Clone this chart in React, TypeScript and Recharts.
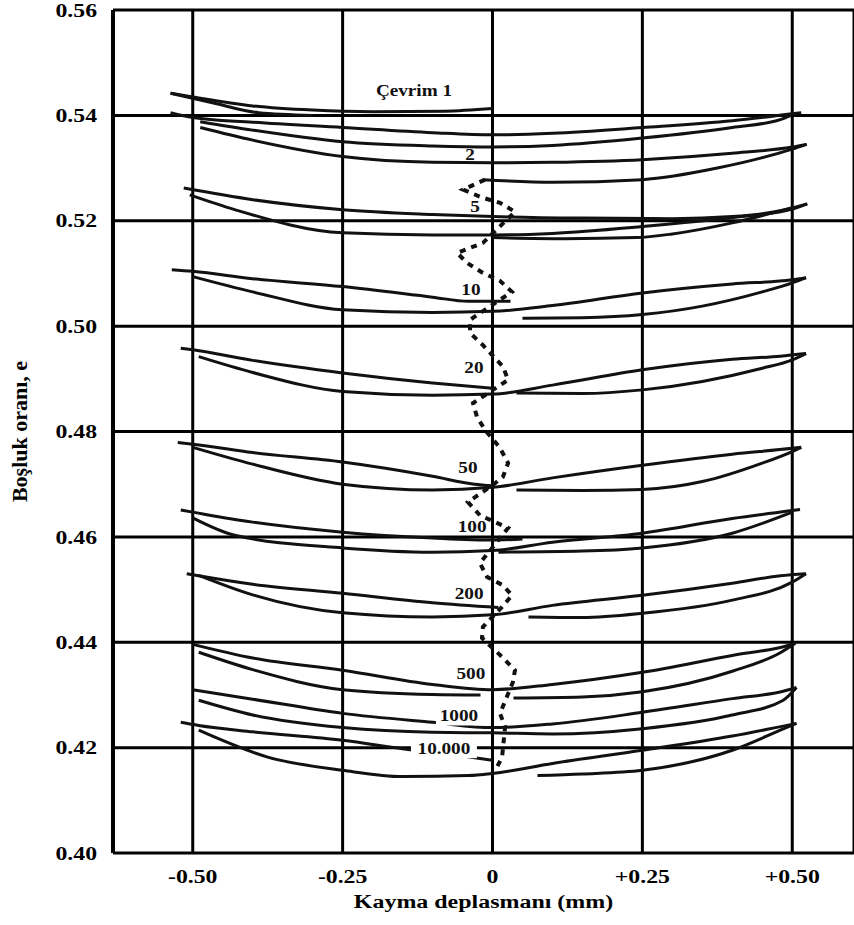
import { LineChart, Line, XAxis, YAxis, CartesianGrid, ReferenceDot } from 'recharts'

type Pt = { x: number; e: number }
const pts = (arr: number[][]): Pt[] => arr.map(([x, e]) => ({ x, e }))

// axis ticks
const xTicks = [-0.5, -0.25, 0, 0.25, 0.5]
const xTickLabels = ['-0.50', '-0.25', '0', '+0.25', '+0.50']
const yTicks = [0.4, 0.42, 0.44, 0.46, 0.48, 0.5, 0.52, 0.54, 0.56]
const yTickLabels = ['0.40', '0.42', '0.44', '0.46', '0.48', '0.50', '0.52', '0.54', '0.56']

// cycle 1 (shear displacement mm, void ratio e)
const cyc1a = pts([[-0.537, 0.5442], [-0.5, 0.5435], [-0.4, 0.5418], [-0.3, 0.541], [-0.2, 0.5407], [-0.08, 0.5408], [0, 0.5413]])
const cyc1b = pts([[-0.537, 0.5442], [-0.46, 0.5422], [-0.39, 0.5405], [-0.3, 0.54]])
const cyc1c = pts([[-0.537, 0.5405], [-0.5, 0.5396], [-0.4, 0.5387], [-0.25, 0.5377], [-0.1, 0.5367], [0, 0.5363], [0.1, 0.5366], [0.25, 0.5377], [0.4, 0.539], [0.5, 0.5403], [0.515, 0.5405]])
const cyc1d = pts([[-0.4875, 0.5388], [-0.4, 0.5372], [-0.25, 0.535], [-0.1, 0.5342], [0, 0.534], [0.1, 0.5343], [0.25, 0.5357], [0.4, 0.5377], [0.48, 0.5392], [0.5, 0.5401]])
// cycle 2
const cyc2a = pts([[-0.4875, 0.5377], [-0.4, 0.5353], [-0.25, 0.5322], [-0.1, 0.5311], [0, 0.531], [0.1, 0.5311], [0.25, 0.5316], [0.4, 0.5328], [0.5, 0.534], [0.524, 0.5345]])
const cyc2b = pts([[-0.016, 0.5278], [0.1, 0.5273], [0.25, 0.5278], [0.375, 0.53], [0.5, 0.5336], [0.524, 0.5345]])
// cycle 5
const cyc5a = pts([[-0.515, 0.5262], [-0.4, 0.524], [-0.25, 0.5221], [-0.1, 0.5212], [0, 0.5208], [0.15, 0.5205], [0.3, 0.5204], [0.4, 0.5208], [0.48, 0.5219], [0.525, 0.5232]])
const cyc5b = pts([[-0.505, 0.5249], [-0.43, 0.5221], [-0.25, 0.5177], [-0.1, 0.5173], [0, 0.5173], [0.1, 0.5176], [0.25, 0.5189], [0.4, 0.5206], [0.5, 0.5222], [0.525, 0.5232]])
const cyc5c = pts([[0, 0.5168], [0.12, 0.5166], [0.24, 0.5168], [0.3, 0.5175], [0.4, 0.5196], [0.5, 0.5225]])
// cycle 10
const cyc10a = pts([[-0.535, 0.5107], [-0.5, 0.5104], [-0.4, 0.509], [-0.25, 0.5075], [-0.1, 0.5055], [-0.04, 0.5047], [0.03, 0.5047]])
const cyc10b = pts([[-0.5, 0.5094], [-0.4, 0.5065], [-0.25, 0.5031], [-0.1, 0.5026], [0, 0.5028], [0.1, 0.5039], [0.25, 0.5063], [0.4, 0.508], [0.5, 0.5088], [0.523, 0.5092]])
const cyc10c = pts([[0.05, 0.5015], [0.15, 0.5016], [0.25, 0.5022], [0.35, 0.5038], [0.45, 0.5065], [0.5, 0.5082], [0.523, 0.5092]])
// cycle 20
const cyc20a = pts([[-0.52, 0.4958], [-0.5, 0.4955], [-0.4, 0.4935], [-0.25, 0.4911], [-0.1, 0.4892], [0, 0.4882]])
const cyc20b = pts([[-0.49, 0.4942], [-0.4, 0.4912], [-0.25, 0.4876], [-0.1, 0.4869], [0, 0.4871], [0.1, 0.4888], [0.25, 0.4917], [0.4, 0.4937], [0.48, 0.4943], [0.523, 0.4948]])
const cyc20c = pts([[0.04, 0.4873], [0.15, 0.4872], [0.25, 0.4879], [0.35, 0.4895], [0.45, 0.492], [0.5, 0.4936], [0.523, 0.4948]])
// cycle 50
const cyc50a = pts([[-0.525, 0.4779], [-0.5, 0.4776], [-0.4, 0.476], [-0.25, 0.4742], [-0.1, 0.4715], [-0.03, 0.47], [0, 0.4697]])
const cyc50b = pts([[-0.5, 0.477], [-0.4, 0.4738], [-0.25, 0.47], [-0.1, 0.4689], [0, 0.4694], [0.1, 0.4712], [0.25, 0.4736], [0.4, 0.4757], [0.5, 0.4768], [0.515, 0.477]])
const cyc50c = pts([[0.04, 0.4689], [0.15, 0.4688], [0.25, 0.469], [0.35, 0.4705], [0.45, 0.474], [0.5, 0.4762], [0.515, 0.477]])
// cycle 100
const cyc100a = pts([[-0.52, 0.4651], [-0.5, 0.4647], [-0.4, 0.4628], [-0.25, 0.4609], [-0.1, 0.4598], [0, 0.4594], [0.05, 0.4596]])
const cyc100b = pts([[-0.5, 0.4636], [-0.43, 0.4603], [-0.25, 0.4579], [-0.1, 0.4571], [0, 0.4574], [0.1, 0.459], [0.25, 0.4607], [0.4, 0.4635], [0.5, 0.465], [0.513, 0.4652]])
const cyc100c = pts([[0.01, 0.4571], [0.15, 0.4573], [0.25, 0.4579], [0.4, 0.4607], [0.5, 0.4647]])
// cycle 200
const cyc200a = pts([[-0.51, 0.453], [-0.5, 0.4528], [-0.4, 0.451], [-0.25, 0.4493], [-0.1, 0.4475], [0.01, 0.4466]])
const cyc200b = pts([[-0.49, 0.4527], [-0.4, 0.449], [-0.25, 0.4456], [-0.1, 0.4448], [0, 0.4452], [0.1, 0.447], [0.25, 0.4489], [0.4, 0.4512], [0.48, 0.4526], [0.523, 0.453]])
const cyc200c = pts([[0.06, 0.4448], [0.15, 0.4447], [0.25, 0.4455], [0.4, 0.448], [0.5, 0.4514], [0.523, 0.453]])
// cycle 500
const cyc500a = pts([[-0.5, 0.4396], [-0.4, 0.437], [-0.25, 0.4347], [-0.1, 0.432], [0, 0.431], [0.1, 0.432], [0.25, 0.4343], [0.4, 0.4375], [0.49, 0.4393], [0.505, 0.4398]])
const cyc500b = pts([[-0.49, 0.4381], [-0.4, 0.4348], [-0.25, 0.431], [-0.1, 0.4301], [-0.02, 0.43]])
const cyc500c = pts([[0.035, 0.4294], [0.15, 0.4296], [0.25, 0.4306], [0.4, 0.4345], [0.48, 0.438], [0.505, 0.4398]])
// cycle 1000
const cyc1000a = pts([[-0.5, 0.431], [-0.4, 0.4292], [-0.25, 0.4265], [-0.1, 0.4248], [0, 0.4238], [0.1, 0.4245], [0.25, 0.4267], [0.4, 0.4293], [0.485, 0.4307], [0.507, 0.4314]])
const cyc1000b = pts([[-0.49, 0.429], [-0.4, 0.4262], [-0.25, 0.4238], [-0.1, 0.4229], [0, 0.4228], [0.1, 0.4226], [0.25, 0.4236], [0.4, 0.4262], [0.485, 0.429], [0.507, 0.4314]])
// cycle 10.000
const cyc10000a = pts([[-0.52, 0.4248], [-0.49, 0.4242], [-0.4, 0.423], [-0.25, 0.4214], [-0.15, 0.4198], [-0.05, 0.4184], [0, 0.4176]])
const cyc10000b = pts([[-0.49, 0.4233], [-0.375, 0.4182], [-0.25, 0.4157], [-0.15, 0.4145], [-0.04, 0.4147], [0, 0.4151], [0.1, 0.417], [0.25, 0.4195], [0.4, 0.4222], [0.507, 0.4246]])
const cyc10000c = pts([[0.075, 0.4147], [0.15, 0.415], [0.25, 0.4157], [0.4, 0.4195], [0.48, 0.4233], [0.507, 0.4246]])

// dotted path through the centre crossings
const centrePath = pts([
  [-0.0125, 0.5278], [-0.049, 0.5259], [-0.0175, 0.5244], [0.0125, 0.5234], [0.0375, 0.5217],
  [-0.016, 0.5158], [-0.059, 0.5139], [-0.0425, 0.512], [-0.016, 0.5101], [0.0125, 0.5086], [0.0325, 0.5065], [0.0125, 0.505],
  [-0.0375, 0.5012], [-0.0375, 0.4987], [-0.016, 0.4964], [0.0175, 0.4923], [0.026, 0.4898],
  [-0.0325, 0.4854], [-0.026, 0.4828], [-0.0125, 0.4803],
  [0.0125, 0.4769], [0.026, 0.474], [0.0175, 0.4714], [0, 0.4698],
  [-0.041, 0.4666], [-0.021, 0.4641], [0.026, 0.4617],
  [-0.021, 0.455], [-0.009, 0.4524], [0.0175, 0.4508], [0.0325, 0.4489], [0.016, 0.4467], [-0.016, 0.4429], [-0.0175, 0.4408],
  [0.016, 0.4372], [0.0375, 0.4347], [0.034, 0.4324],
  [0.0125, 0.4265], [0.021, 0.4239], [0.016, 0.4182], [0.0075, 0.4163],
])

const curves = [
  cyc1a, cyc1b, cyc1c, cyc1d, cyc2a, cyc2b, cyc5a, cyc5b, cyc5c,
  cyc10a, cyc10b, cyc10c, cyc20a, cyc20b, cyc20c, cyc50a, cyc50b, cyc50c,
  cyc100a, cyc100b, cyc100c, cyc200a, cyc200b, cyc200c, cyc500a, cyc500b, cyc500c,
  cyc1000a, cyc1000b, cyc10000a, cyc10000b, cyc10000c,
]

// cycle labels, anchored at their centre
const cycleLabels = [
  { text: 'Çevrim 1', x: -0.131, e: 0.5447 },
  { text: '2', x: -0.0375, e: 0.5325 },
  { text: '5', x: -0.029, e: 0.5227 },
  { text: '10', x: -0.036, e: 0.5069 },
  { text: '20', x: -0.031, e: 0.4921 },
  { text: '50', x: -0.041, e: 0.4731 },
  { text: '100', x: -0.034, e: 0.4619 },
  { text: '200', x: -0.039, e: 0.4493 },
  { text: '500', x: -0.036, e: 0.4341 },
  { text: '1000', x: -0.056, e: 0.4261 },
  { text: '10.000', x: -0.081, e: 0.4199 },
]

const FONT = '"Liberation Serif", "Times New Roman", serif'

function XTick({ x, y, payload }: any) {
  const i = xTicks.findIndex((t) => Math.abs(t - payload.value) < 1e-6)
  return (
    <g transform={`translate(${x},${y + 22})`}>
      <text transform='scale(1.25,1)' textAnchor='middle' fontFamily={FONT} fontWeight='bold' fontSize={19} fill='#000'>
        {xTickLabels[i]}
      </text>
    </g>
  )
}

function YTick({ x, y, payload }: any) {
  const i = yTicks.findIndex((t) => Math.abs(t - payload.value) < 1e-6)
  return (
    <g transform={`translate(${x - 8},${y})`}>
      <text transform='scale(1.25,1)' textAnchor='end' dy='0.35em' fontFamily={FONT} fontWeight='bold' fontSize={19} fill='#000'>
        {yTickLabels[i]}
      </text>
    </g>
  )
}

function xTitle({ viewBox }: any) {
  const cx = viewBox.x + viewBox.width / 2
  return (
    <text transform={`translate(${cx},${viewBox.y + 55}) scale(1.26,1)`} textAnchor='middle' fontFamily={FONT} fontWeight='bold' fontSize={19} fill='#000'>
      Kayma deplasmanı (mm)
    </text>
  )
}

function yTitle({ viewBox }: any) {
  const cy = viewBox.y + viewBox.height / 2
  return (
    <text transform={`translate(27,${cy}) rotate(-90)`} textAnchor='middle' fontFamily={FONT} fontWeight='bold' fontSize={22} fill='#000'>
      Boşluk oranı, e
    </text>
  )
}

function cycleLabel(text: string) {
  return ({ cx, cy }: any) => {
    const boxed = text === '1000' || text === '10.000'
    const w = text.length * 10 + 6
    return (
      <g transform={`translate(${cx},${cy})`}>
        {boxed && <rect x={-w / 2} y={-10} width={w} height={20} fill='#fff' />}
        <text transform='scale(1.2,1)' textAnchor='middle' dy='0.35em' fontFamily={FONT} fontWeight='bold' fontSize={16} fill='#111'>
          {text}
        </text>
      </g>
    )
  }
}

export default function App() {
  return (
    <div style={{ position: 'absolute', left: 0, top: 0, width: 854, height: 925, background: '#fff' }}>
      <LineChart width={854} height={925} margin={{ top: 10, right: 0, bottom: 0, left: 0 }}>
        <CartesianGrid stroke='#000' strokeWidth={3} />
        <XAxis
          type='number'
          dataKey='x'
          domain={[-0.633, 0.603]}
          ticks={xTicks}
          allowDataOverflow
          height={72}
          axisLine={false}
          tickLine={false}
          tick={<XTick />}
          label={{ content: xTitle }}
        />
        <YAxis
          type='number'
          dataKey='e'
          domain={[0.4, 0.56]}
          ticks={yTicks}
          allowDataOverflow
          width={113}
          axisLine={{ stroke: '#000', strokeWidth: 4 }}
          tickLine={false}
          tick={<YTick />}
          label={{ content: yTitle }}
        />
        {curves.map((c, i) => (
          <Line
            key={i}
            data={c}
            dataKey='e'
            type='monotone'
            stroke='#111'
            strokeWidth={3}
            dot={false}
            activeDot={false}
            isAnimationActive={false}
          />
        ))}
        <Line
          data={centrePath}
          dataKey='e'
          type='linear'
          stroke='#111'
          strokeWidth={4}
          strokeDasharray='6 6'
          dot={false}
          activeDot={false}
          isAnimationActive={false}
        />
        {cycleLabels.map((l) => (
          <ReferenceDot key={l.text} x={l.x} y={l.e} r={1} shape={cycleLabel(l.text)} />
        ))}
      </LineChart>
    </div>
  )
}
